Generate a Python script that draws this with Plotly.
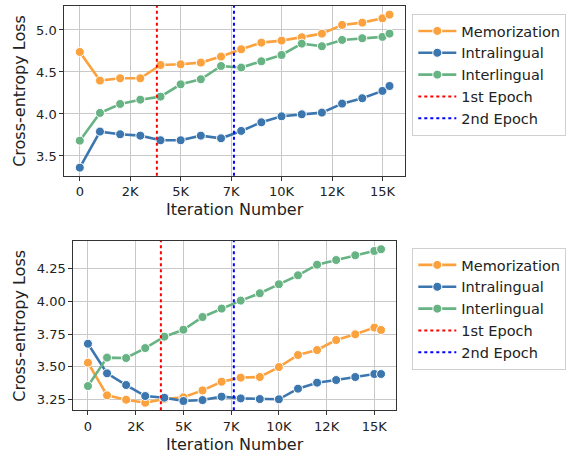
import plotly.graph_objects as go

# ---------------- data ----------------
iterations = [0, 1000, 2000, 3000, 4000, 5000, 6000, 7000, 8000, 9000,
              10000, 11000, 12000, 13000, 14000, 15000, 15350]
epoch_iters = [3820, 7640]
epoch_names = ["1st Epoch", "2nd Epoch"]
series_names = ["Memorization", "Intralingual", "Interlingual"]

top_memorization = [4.738, 4.397, 4.425, 4.425, 4.583, 4.591, 4.611, 4.683, 4.770,
                    4.849, 4.873, 4.913, 4.956, 5.060, 5.087, 5.139, 5.182]
top_intralingual = [3.361, 3.790, 3.758, 3.742, 3.687, 3.687, 3.742, 3.710, 3.798,
                    3.901, 3.972, 3.996, 4.016, 4.123, 4.187, 4.274, 4.333]
top_interlingual = [3.682, 4.012, 4.119, 4.170, 4.206, 4.353, 4.413, 4.571, 4.552,
                    4.627, 4.702, 4.837, 4.806, 4.881, 4.901, 4.917, 4.956]

bot_memorization = [3.532, 3.283, 3.250, 3.227, 3.255, 3.268, 3.321, 3.387, 3.418,
                    3.423, 3.499, 3.591, 3.629, 3.705, 3.749, 3.800, 3.782]
bot_intralingual = [3.677, 3.451, 3.362, 3.278, 3.265, 3.240, 3.247, 3.273, 3.260,
                    3.255, 3.253, 3.334, 3.380, 3.400, 3.423, 3.446, 3.446]
bot_interlingual = [3.354, 3.571, 3.568, 3.644, 3.731, 3.784, 3.881, 3.945, 4.006,
                    4.062, 4.131, 4.199, 4.280, 4.316, 4.352, 4.385, 4.398]

x_tickvals = [0, 2500, 5000, 7500, 10000, 12500, 15000]
x_ticktext = ["0", "2K", "5K", "7K", "10K", "12K", "15K"]
top_yticks = [3.5, 4.0, 4.5, 5.0]
bot_yticks = [3.25, 3.50, 3.75, 4.00, 4.25]

x_title = "Iteration Number"
y_title = "Cross-entropy Loss"

# ---------------- style ----------------
colors = ["#FBA23F", "#3B76AF", "#67B384"]
epoch_colors = ["red", "blue"]
W, H = 568, 453
FONT = "DejaVu Sans"
grid_c = "#c9c9c9"
frame_c = "#333333"

fig = go.Figure()

panels = [
    dict(xa="x", ya="y", legend="legend",
         data=[top_memorization, top_intralingual, top_interlingual]),
    dict(xa="x2", ya="y2", legend="legend2",
         data=[bot_memorization, bot_intralingual, bot_interlingual]),
]

for p in panels:
    for i, (name, vals) in enumerate(zip(series_names, p["data"])):
        fig.add_trace(go.Scatter(
            x=iterations, y=vals, name=name, mode="lines+markers",
            xaxis=p["xa"], yaxis=p["ya"], legend=p["legend"], legendrank=i + 1,
            line=dict(color=colors[i], width=2.6),
            marker=dict(color=colors[i], size=9, line=dict(color="white", width=1)),
        ))
    for j, (ex, en) in enumerate(zip(epoch_iters, epoch_names)):
        fig.add_shape(
            type="line", xref=p["xa"], yref=p["ya"] + " domain",
            x0=ex, x1=ex, y0=0, y1=1,
            line=dict(color=epoch_colors[j], width=2, dash="dot"),
            showlegend=True, name=en, legend=p["legend"], legendrank=10 + j,
            layer="above",
        )

axis_common = dict(
    showgrid=True, gridcolor=grid_c, gridwidth=1,
    showline=True, linecolor=frame_c, linewidth=1, mirror=True,
    ticks="outside", ticklen=4, tickcolor=frame_c, tickwidth=1,
    tickfont=dict(family=FONT, size=13, color="#222"),
    zeroline=False, automargin=False,
)

def px_x(a, b):
    return [a / W, b / W]

def px_y(top, bottom):
    return [1 - bottom / H, 1 - top / H]

fig.update_layout(
    width=W, height=H,
    margin=dict(l=0, r=0, t=0, b=0),
    paper_bgcolor="white", plot_bgcolor="white",
    font=dict(family=FONT, color="#222"),
    xaxis=dict(axis_common, domain=px_x(64.3, 405), anchor="y",
               range=[-767.5, 16117.5], tickvals=x_tickvals, ticktext=x_ticktext),
    yaxis=dict(axis_common, domain=px_y(6, 175.7), anchor="x",
               range=[3.265, 5.285], tickvals=top_yticks, tickformat=".1f"),
    xaxis2=dict(axis_common, domain=px_x(73.3, 395.7), anchor="y2",
                range=[-767.5, 16117.5], tickvals=x_tickvals, ticktext=x_ticktext),
    yaxis2=dict(axis_common, domain=px_y(241, 410.3), anchor="x2",
                range=[3.169, 4.461], tickvals=bot_yticks, tickformat=".2f"),
    legend=dict(x=412.3 / W, y=1 - 14.0 / H, xanchor="left", yanchor="top",
                bgcolor="white", bordercolor="#d0d0d0", borderwidth=1,
                font=dict(family=FONT, size=14.5, color="#222"),
                itemwidth=38, traceorder="normal"),
    legend2=dict(x=412.3 / W, y=1 - 248.0 / H, xanchor="left", yanchor="top",
                 bgcolor="white", bordercolor="#d0d0d0", borderwidth=1,
                 font=dict(family=FONT, size=14.5, color="#222"),
                 itemwidth=38, traceorder="normal"),
)

annots = []
for (xc, ytitle_c, ylab_c) in [((64.3 + 405) / 2, 210, (6 + 175.7) / 2),
                                ((73.3 + 395.7) / 2, 444, (241 + 410.3) / 2)]:
    annots.append(dict(text=x_title, xref="paper", yref="paper",
                       x=xc / W, y=1 - ytitle_c / H, xanchor="center", yanchor="middle",
                       showarrow=False, font=dict(family=FONT, size=16, color="#222")))
    annots.append(dict(text=y_title, xref="paper", yref="paper", textangle=-90,
                       x=20 / W, y=1 - ylab_c / H, xanchor="center", yanchor="middle",
                       showarrow=False, font=dict(family=FONT, size=16, color="#222")))
fig.update_layout(annotations=annots)

fig.write_html("out.html")
